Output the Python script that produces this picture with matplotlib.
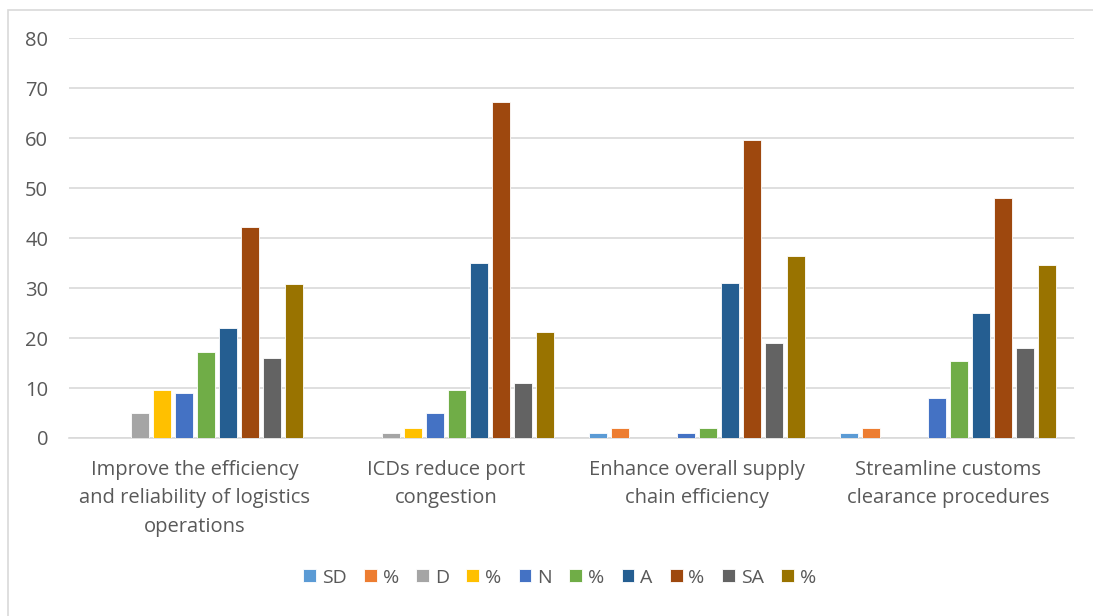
import numpy as np
import matplotlib.pyplot as plt
from matplotlib.patches import Rectangle

# survey responses (counts out of 52 and matching percentages)
categories = [
    "Improve the efficiency\nand reliability of logistics\noperations",
    "ICDs reduce port\ncongestion",
    "Enhance overall supply\nchain efficiency",
    "Streamline customs\nclearance procedures",
]
series_names = ["SD", "%", "D", "%", "N", "%", "A", "%", "SA", "%"]

sd = [0, 0, 1, 1]
sd_pct = [0, 0, 1.9, 1.9]
d = [5, 1, 0, 0]
d_pct = [9.6, 1.9, 0, 0]
n = [9, 5, 1, 8]
n_pct = [17.3, 9.6, 1.9, 15.4]
a = [22, 35, 31, 25]
a_pct = [42.3, 67.3, 59.6, 48.1]
sa = [16, 11, 19, 18]
sa_pct = [30.8, 21.2, 36.5, 34.6]

series_values = [sd, sd_pct, d, d_pct, n, n_pct, a, a_pct, sa, sa_pct]
colors = ["#5B9BD5", "#ED7D31", "#A5A5A5", "#FFC000", "#4472C4",
          "#70AD47", "#255E91", "#9E480E", "#636363", "#997300"]

plt.rcParams['font.family'] = ['Open Sans', 'DejaVu Sans']

fig = plt.figure(figsize=(10.93, 6.16), dpi=100)
fig.patches.append(Rectangle((8 / 1093, -0.05), 1.1, 1 - 10 / 616 + 0.05,
                             transform=fig.transFigure, fill=False,
                             edgecolor="#d9d9d9", linewidth=1.2, zorder=0))
ax = fig.add_axes([0.0631, 0.289, 0.9195, 0.649])

x = np.arange(len(categories))
step = 0.0876
width = 0.0717
for j, (name, vals, col) in enumerate(zip(series_names, series_values, colors)):
    ax.bar(x + (j - 4.5) * step, vals, width, color=col, label=name,
           edgecolor="white", linewidth=0.6, zorder=3)

ax.set_xlim(-0.5, 3.5)
ax.set_ylim(0, 80)
ax.set_yticks(range(0, 81, 10))
ax.yaxis.grid(True, color="#d9d9d9", linewidth=1.2, zorder=0)
for s in ["top", "right", "left"]:
    ax.spines[s].set_visible(False)
ax.spines["bottom"].set_color("#d9d9d9")
ax.spines["bottom"].set_linewidth(1.2)
ax.tick_params(axis="both", length=0, colors="#595959", labelsize=14.5)
ax.tick_params(axis="y", pad=15)
ax.tick_params(axis="x", pad=16)
ax.set_xticks(x)
ax.set_xticklabels(categories, linespacing=1.55)

fig.legend(loc="center", bbox_to_anchor=(0.512, 0.062), ncol=10, frameon=False,
           handlelength=0.65, handleheight=0.65, handletextpad=0.3,
           columnspacing=0.9, fontsize=14, labelcolor="#595959")

fig.savefig("out.png", dpi=100)
